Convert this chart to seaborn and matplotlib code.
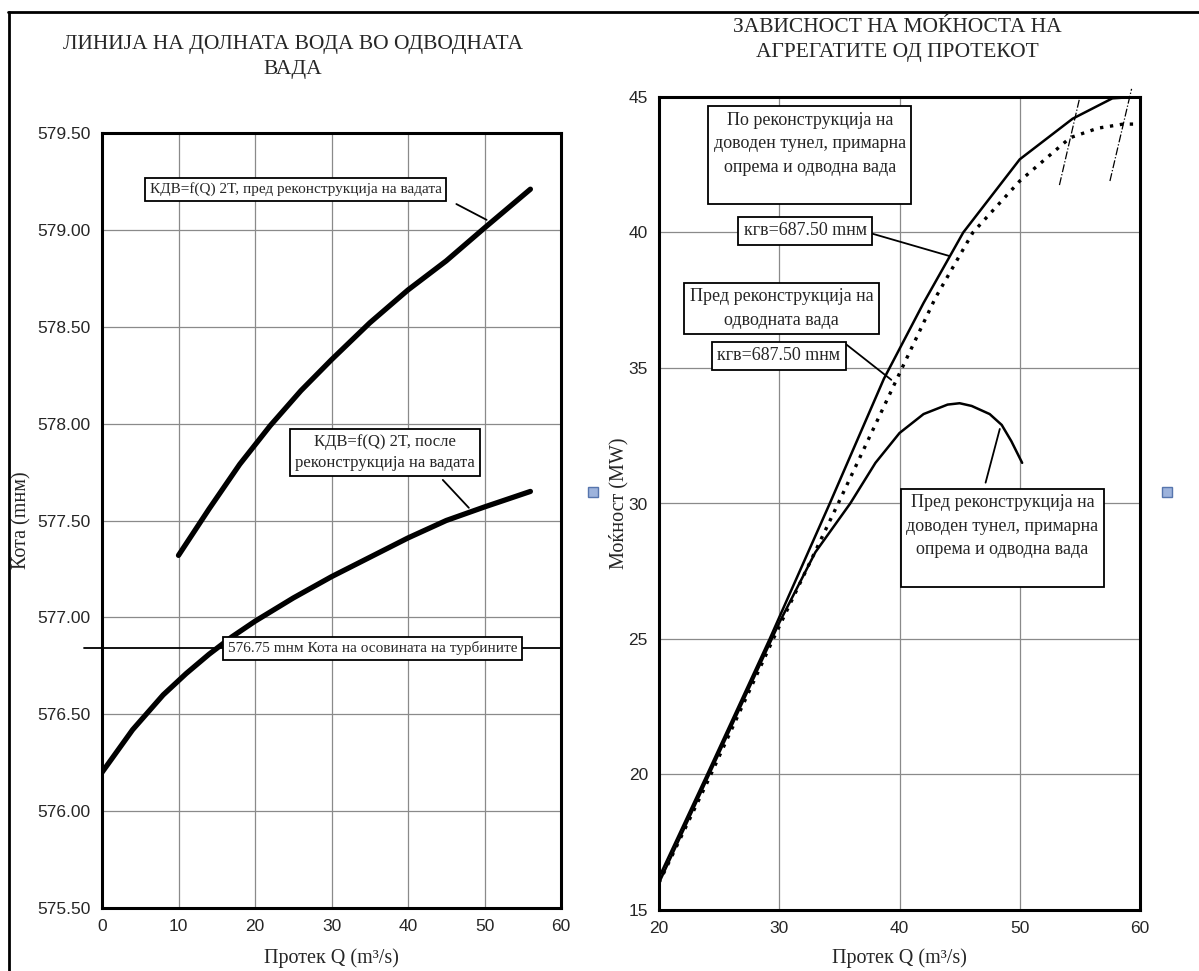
import matplotlib
matplotlib.use("Agg")
import matplotlib.pyplot as plt
from matplotlib.lines import Line2D
from matplotlib.patches import Rectangle
from matplotlib.ticker import FormatStrFormatter
import seaborn as sns

sns.set_style("white")
plt.rcParams["font.family"] = ["Liberation Serif", "DejaVu Serif"]

# --- лево: линија на долната вода ---
q_before = [10, 14, 18, 22, 26, 30, 35, 40, 45, 50, 56]
h_before = [577.32, 577.56, 577.79, 577.99, 578.17, 578.33, 578.52, 578.69, 578.84, 579.01, 579.21]
q_after = [0, 4, 8, 11, 14, 17, 20, 25, 30, 35, 40, 45, 50, 56]
h_after = [576.20, 576.42, 576.60, 576.71, 576.81, 576.90, 576.98, 577.10, 577.21, 577.31, 577.41, 577.50, 577.57, 577.65]
q_turbine = [-2.3, 60]
h_turbine = [576.84, 576.84]
left_xticks = [0, 10, 20, 30, 40, 50, 60]
left_yticks = [575.5, 576.0, 576.5, 577.0, 577.5, 578.0, 578.5, 579.0, 579.5]

# --- десно: моќност од протек ---
q_new = [20, 24, 29.2, 34.2, 38.7, 42, 45.3, 50, 54.4, 57.7, 59.4]
p_new = [16.2, 20, 25, 30, 34.6, 37.4, 40, 42.7, 44.2, 44.95, 45.0]
q_dot = [20, 24, 29.5, 34.9, 40, 43, 46.1, 50, 54.2, 56.5, 58.6, 59.8]
p_dot = [16.0, 19.7, 25, 30, 34.8, 37.6, 40, 41.9, 43.5, 43.85, 44.0, 44.0]
q_old = [20, 25, 30, 33, 35.9, 38, 40, 42, 44, 45, 46, 47.5, 48.5, 49.3, 50.2]
p_old = [16.0, 20.8, 25.6, 28.2, 30.0, 31.5, 32.6, 33.3, 33.65, 33.7, 33.6, 33.3, 32.9, 32.3, 31.5]
q_lim1 = [53.3, 55.0]
p_lim1 = [41.75, 45.0]
q_lim2 = [57.5, 59.3]
p_lim2 = [41.9, 45.3]
right_xticks = [20, 30, 40, 50, 60]
right_yticks = [15, 20, 25, 30, 35, 40, 45]

fig = plt.figure(figsize=(11.99, 9.71), dpi=100)
W, H = 1199, 971


def px_axes(x0, y0, x1, y1):
    return fig.add_axes([x0 / W, (H - y1) / H, (x1 - x0) / W, (y1 - y0) / H])


def style_axes(ax):
    for sp in ax.spines.values():
        sp.set_visible(True)
        sp.set_color("black")
        sp.set_linewidth(2.2)
    ax.grid(True, color="#8a8a8a", linewidth=0.9)
    ax.set_axisbelow(True)
    ax.tick_params(axis="both", length=4, width=0.8, color="#777777",
                   labelsize=12.5, pad=4, direction="out")
    for lab in ax.get_xticklabels() + ax.get_yticklabels():
        lab.set_fontfamily("Liberation Sans")


box = dict(boxstyle="square,pad=0.3", fc="white", ec="black", lw=1.3)


def label(ax, x, y, s, size, start=None, end=None, spacing=1.5):
    ax.text(x, y, s, ha="center", va="center", fontsize=size, bbox=box,
            linespacing=spacing, zorder=6)
    if start is not None:
        ax.annotate("", xy=end, xytext=start,
                    arrowprops=dict(arrowstyle="-", color="black", lw=1.3), zorder=5)


# ЛЕВ ГРАФИК
ax1 = px_axes(102, 133, 561, 908)
sns.lineplot(x=q_before, y=h_before, ax=ax1, color="black", linewidth=3.8, sort=False, estimator=None)
sns.lineplot(x=q_after, y=h_after, ax=ax1, color="black", linewidth=3.8, sort=False, estimator=None)
ax1.plot(q_turbine, h_turbine, color="black", linewidth=1.3, clip_on=False)
ax1.set_xlim(0, 60)
ax1.set_ylim(575.5, 579.5)
ax1.set_xticks(left_xticks)
ax1.set_yticks(left_yticks)
ax1.yaxis.set_major_formatter(FormatStrFormatter("%.2f"))
ax1.set_xlabel("Протек Q (m³/s)", fontsize=14.5, labelpad=10)
ax1.set_ylabel("Кота (mнм)", fontsize=14.5, labelpad=4)
style_axes(ax1)

label(ax1, 25.3, 579.21, "КДВ=f(Q) 2T, пред реконструкција на вадата", 11,
      (46.0, 579.14), (50.6, 579.045))
label(ax1, 37.0, 577.85, "КДВ=f(Q) 2T, после\nреконструкција на вадата", 12,
      (44.3, 577.72), (48.2, 577.555), spacing=1.4)
label(ax1, 35.4, 576.84, "576.75 mнм Кота на осовината на турбините", 11)

# ДЕСЕН ГРАФИК
ax2 = px_axes(659, 97, 1140, 910)
sns.lineplot(x=q_new, y=p_new, ax=ax2, color="black", linewidth=1.8, sort=False, estimator=None)
sns.lineplot(x=q_dot, y=p_dot, ax=ax2, color="black", linewidth=2.4, linestyle=(0, (1, 2)),
             sort=False, estimator=None)
sns.lineplot(x=q_old, y=p_old, ax=ax2, color="black", linewidth=1.8, sort=False, estimator=None)
ax2.plot(q_lim1, p_lim1, color="black", linewidth=0.9, linestyle="-.", clip_on=False)
ax2.plot(q_lim2, p_lim2, color="black", linewidth=0.9, linestyle="-.", clip_on=False)
ax2.set_xlim(20, 60)
ax2.set_ylim(15, 45)
ax2.set_xticks(right_xticks)
ax2.set_yticks(right_yticks)
ax2.set_xlabel("Протек Q (m³/s)", fontsize=14.5, labelpad=9)
ax2.set_ylabel("Моќност (MW)", fontsize=14.5, labelpad=0)
style_axes(ax2)

label(ax2, 32.55, 42.85, "По реконструкција на\nдоводен тунел, примарна\nопрема и одводна вада\n ", 13)
label(ax2, 32.15, 40.07, "кгв=687.50 mнм", 13, (37.4, 40.0), (44.4, 39.1))
label(ax2, 30.2, 37.2, "Пред реконструкција на\nодводната вада", 13)
label(ax2, 29.95, 35.45, "кгв=687.50 mнм", 13, (35.2, 36.0), (39.5, 34.5))
label(ax2, 48.55, 28.73, "Пред реконструкција на\nдоводен тунел, примарна\nопрема и одводна вада\n ", 13,
      (47.1, 30.67), (48.4, 32.85))

# наслови
fig.text(293 / W, 1 - 57 / H, "ЛИНИЈА НА ДОЛНАТА ВОДА ВО ОДВОДНАТА\nВАДА",
         ha="center", va="center", fontsize=15.5, linespacing=1.45)
fig.text(897 / W, 1 - 40 / H, "ЗАВИСНОСТ НА МОЌНОСТА НА\nАГРЕГАТИТЕ ОД ПРОТЕКОТ",
         ha="center", va="center", fontsize=15.5, linespacing=1.4)

# рамка и маркери
fig.add_artist(Line2D([8 / W, 1], [1 - 12 / H, 1 - 12 / H], color="black", lw=2))
fig.add_artist(Line2D([9 / W, 9 / W], [0, 1 - 12 / H], color="black", lw=2))
for mx in (593, 1167):
    fig.add_artist(Rectangle(((mx - 5) / W, (H - 497) / H), 10 / W, 10 / H,
                             fc="#9db3dc", ec="#5675ad", lw=1))

fig.savefig("out.png", dpi=100)
